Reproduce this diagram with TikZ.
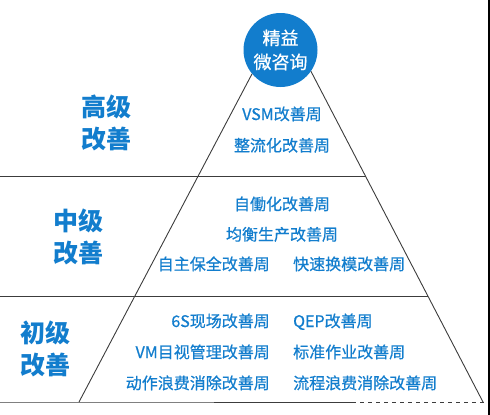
\documentclass[tikz,border=0pt]{standalone}
\usepackage{fontspec}
\setmainfont{Noto Sans CJK SC}
\newfontfamily\medcjk{Noto Sans CJK SC}[FakeBold=0.7]
\usetikzlibrary{positioning}
\definecolor{leanblue}{RGB}{18,125,205}
\definecolor{rulegray}{RGB}{60,60,60}

\begin{document}
\begin{tikzpicture}[
	x=1pt, y=-1pt,
	node distance=15pt,
	level/.style = {text=leanblue, font=\fontsize{25}{32}\selectfont\bfseries, align=center},
	item/.style  = {text=leanblue, font=\medcjk\fontsize{16}{20}\selectfont,
	                inner sep=0pt, text height=12pt, text depth=4pt},
	rule/.style  = {draw=rulegray, line width=0.9pt}
	]
	\useasboundingbox (0,0) rectangle (490,415);
%
	\node[circle, fill=leanblue, minimum size=74pt, inner sep=0pt, text=white,
	      align=center, font=\medcjk\fontsize{18}{24}\selectfont] (top) at (280.5,50) {精益\\微咨询};
%
	\coordinate (bl) at (79,402);
	\coordinate (br) at (483,402);
	\draw[rule] (top.220) -- (bl);
	\draw[rule] (top.-35) -- (br);
%
	\coordinate (a0) at (0,176);   \coordinate (a1) at (366,176);
	\coordinate (b0) at (0,296);   \coordinate (b1) at (428,296);
	\coordinate (c0) at (0,402);   \coordinate (c1) at (352,402);
	\coordinate (c2) at (488,402);
	\draw[rule] (a0) -- (a1);
	\draw[rule] (b0) -- (b1);
	\draw[rule] (c0) -- (bl) -- (c1);
	\draw[rulegray, line width=0.7pt, dash pattern=on 4pt off 4pt] (c1) -- (c2);
	\fill[black] (488,0) rectangle (490,415);
%
	\node[level] (high) at (106,123) {高级\\改善};
	\node[level] (mid)  at (78,237)  {中级\\改善};
	\node[level] (low)  at (45,349)  {初级\\改善};
%
	\node[item] (vsm) at (282,116) {VSM改善周};
	\node[item, below=of vsm] (zlh) {整流化改善周};
%
	\node[item] (zdh) at (282,206) {自働化改善周};
	\node[item, below=14pt of zdh] (jh) {均衡生产改善周};
	\node[item, anchor=east] (zz) at (270,266) {自主保全改善周};
	\node[item, anchor=west] (ks) at (293,266) {快速换模改善周};
%
	\node[item, anchor=east] (s6) at (270,323) {6S现场改善周};
	\node[item, anchor=east] (vm) at (270,354) {VM目视管理改善周};
	\node[item, anchor=east] (dz) at (270,385) {动作浪费消除改善周};
	\node[item, anchor=west] (qep) at (293,323) {QEP改善周};
	\node[item, anchor=west] (bz)  at (293,354) {标准作业改善周};
	\node[item, anchor=west] (lc)  at (293,385) {流程浪费消除改善周};
\end{tikzpicture}
\end{document}
